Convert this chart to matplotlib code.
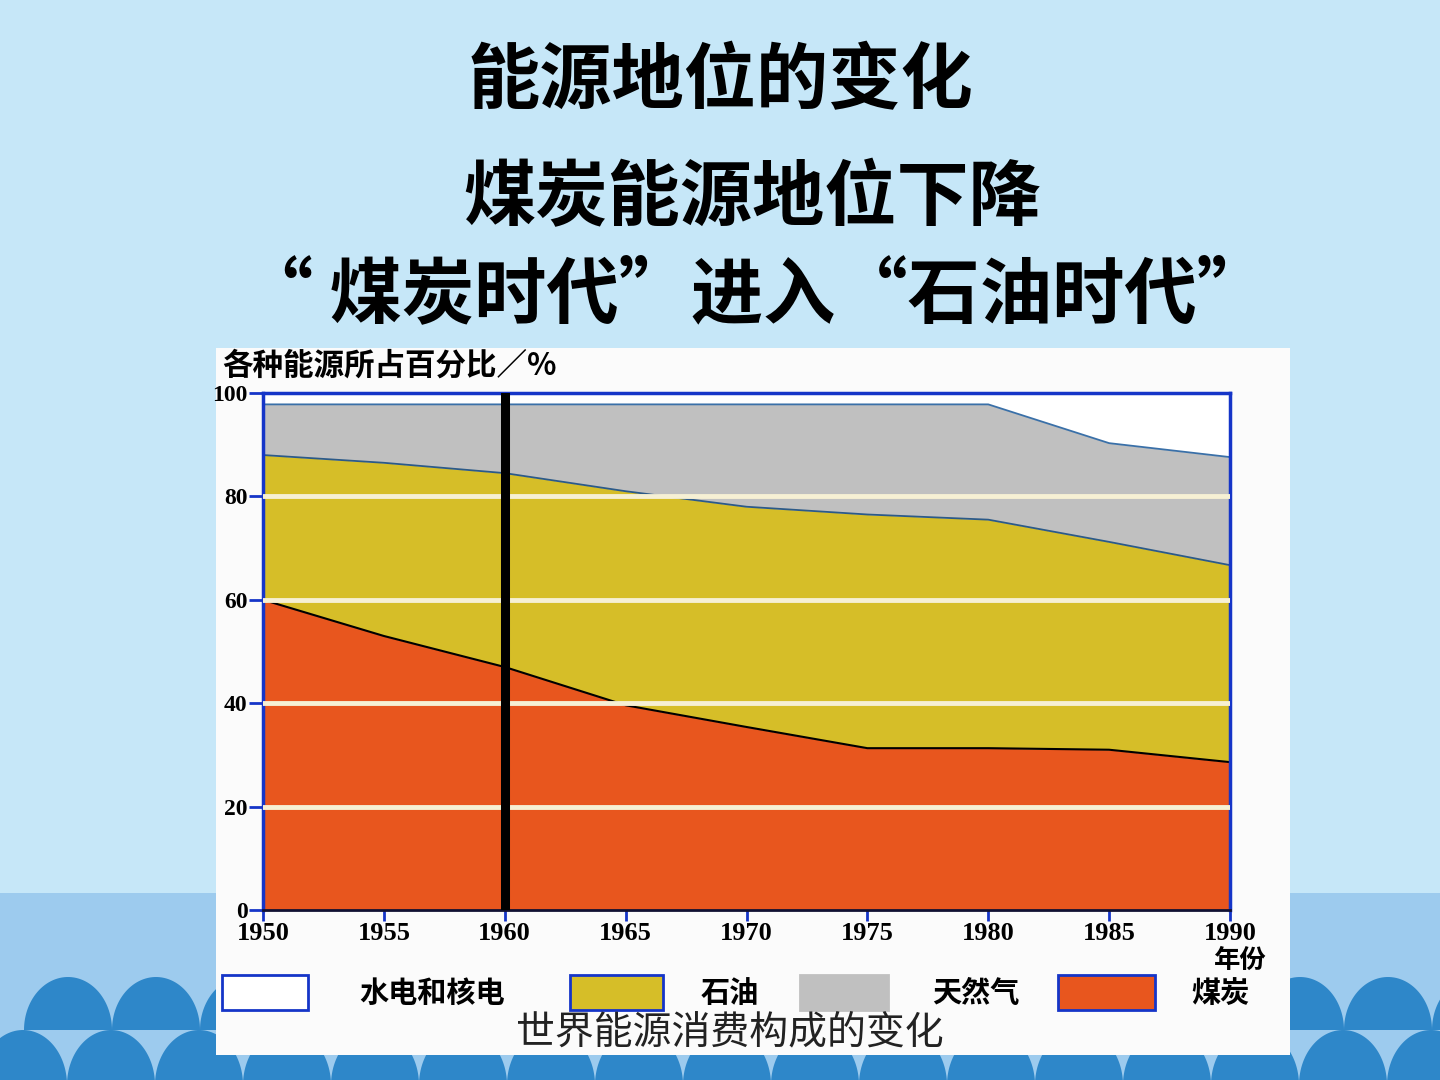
import matplotlib
matplotlib.use('agg')
import matplotlib.pyplot as plt
from matplotlib.patches import Rectangle, Polygon
import numpy as np

plt.rcParams['font.family'] = ['Noto Sans CJK SC', 'DejaVu Sans']

# data (cumulative tops, %)
years = [1950, 1955, 1960, 1965, 1970, 1975, 1980, 1985, 1990]
coal_top = [60, 53, 47, 39.6, 35.4, 31.3, 31.3, 31, 28.6]
oil_top = [88, 86.5, 84.5, 81, 78, 76.5, 75.5, 71.2, 66.7]
gas_top = [97.8, 97.8, 97.8, 97.8, 97.8, 97.8, 97.8, 90.3, 87.6]
year_labels = [str(y) for y in years]
pct_ticks = [0, 20, 40, 60, 80, 100]
grid_levels = [20, 40, 60, 80]

legend_names = ['水电和核电', '石油', '天然气', '煤炭']

coal_c = '#e8561e'
oil_c = '#d6be28'
gas_c = '#c0c0c0'
blue = '#1535c8'

fig = plt.figure(figsize=(14.4, 10.8), dpi=100)

# slide background in pixel coordinates
bg = fig.add_axes([0, 0, 1, 1], zorder=-10)
bg.set_xlim(0, 1440)
bg.set_ylim(1080, 0)
bg.axis('off')
bg.add_patch(Rectangle((0, 0), 1440, 893, color='#c6e7f8', lw=0))
bg.add_patch(Rectangle((0, 893), 1440, 187, color='#9dcbee', lw=0))
t = np.linspace(0, np.pi, 60)
for cx in np.arange(68, 1500, 88):
    pts = np.column_stack([cx + 44 * np.cos(t), 1030 - 53 * np.sin(t)])
    bg.add_patch(Polygon(pts, closed=True, color='#2e87c9', lw=0))
for cx in np.arange(23, 1500, 88):
    pts = np.column_stack([cx + 44 * np.cos(t), 1085 - 55 * np.sin(t)])
    bg.add_patch(Polygon(pts, closed=True, color='#2e87c9', lw=0))

# white card behind the chart
bg.add_patch(Rectangle((216, 348), 1074, 707, color='#fbfbfb', lw=0, zorder=3))

# slide titles
bg.text(720, 82, '能源地位的变化', ha='center', va='center', fontsize=52, fontweight='bold')
bg.text(752, 199, '煤炭能源地位下降', ha='center', va='center', fontsize=52, fontweight='bold')
bg.text(755, 296, '“ 煤炭时代”进入“石油时代”', ha='center', va='center', fontsize=52, fontweight='bold')

# chart labels on the card
bg.text(222, 366, '各种能源所占百分比／%', ha='left', va='center', fontsize=22,
        fontweight='bold', zorder=5)
bg.text(1240, 960, '年份', ha='center', va='center', fontsize=19, fontweight='bold', zorder=5)

# legend
boxes = [(222, 86, 'white', blue), (570, 93, oil_c, blue), (800, 88, gas_c, gas_c), (1058, 97, coal_c, blue)]
label_x = [432, 730, 976, 1220]
for (x0, w, fc, ec), lx, name in zip(boxes, label_x, legend_names):
    bg.add_patch(Rectangle((x0, 975), w, 35, facecolor=fc, edgecolor=ec, lw=2, zorder=5))
    bg.text(lx, 993, name, ha='center', va='center', fontsize=21, fontweight='bold', zorder=5)
bg.text(730, 1032, '世界能源消费构成的变化', ha='center', va='center', fontsize=28,
        color='#222222', zorder=5)

# chart
ax = fig.add_axes([263 / 1440, 1 - 910 / 1080, 967 / 1440, 517 / 1080])
ax.set_facecolor('white')
ax.fill_between(years, 0, coal_top, color=coal_c, lw=0)
ax.fill_between(years, coal_top, oil_top, color=oil_c, lw=0)
ax.fill_between(years, oil_top, gas_top, color=gas_c, lw=0)
ax.plot(years, coal_top, color='black', lw=1.5)
ax.plot(years, oil_top, color='#2c5a88', lw=1.3)
ax.plot(years, gas_top, color='#3a70a8', lw=1.3)
for g in grid_levels:
    ax.axhline(g, color='#f6f0d4', lw=3.5, zorder=3)
ax.axvline(1960, color='black', lw=6.5, zorder=4)

ax.set_xlim(1950, 1990)
ax.set_ylim(0, 100)
ax.set_xticks(years)
ax.set_xticklabels(year_labels, fontfamily='Liberation Serif', fontweight='bold', fontsize=19)
ax.set_yticks(pct_ticks)
ax.set_yticklabels([str(v) for v in pct_ticks], fontfamily='Liberation Serif',
                   fontweight='bold', fontsize=17)
ax.tick_params(axis='x', direction='out', length=8, width=2, color=blue, pad=1)
ax.tick_params(axis='y', direction='out', length=10, width=2, color=blue, pad=1)
for s in ['left', 'top', 'right']:
    ax.spines[s].set_color(blue)
    ax.spines[s].set_linewidth(2.5)
ax.spines['bottom'].set_color('#111133')
ax.spines['bottom'].set_linewidth(2)

fig.savefig('out.png', dpi=100)
